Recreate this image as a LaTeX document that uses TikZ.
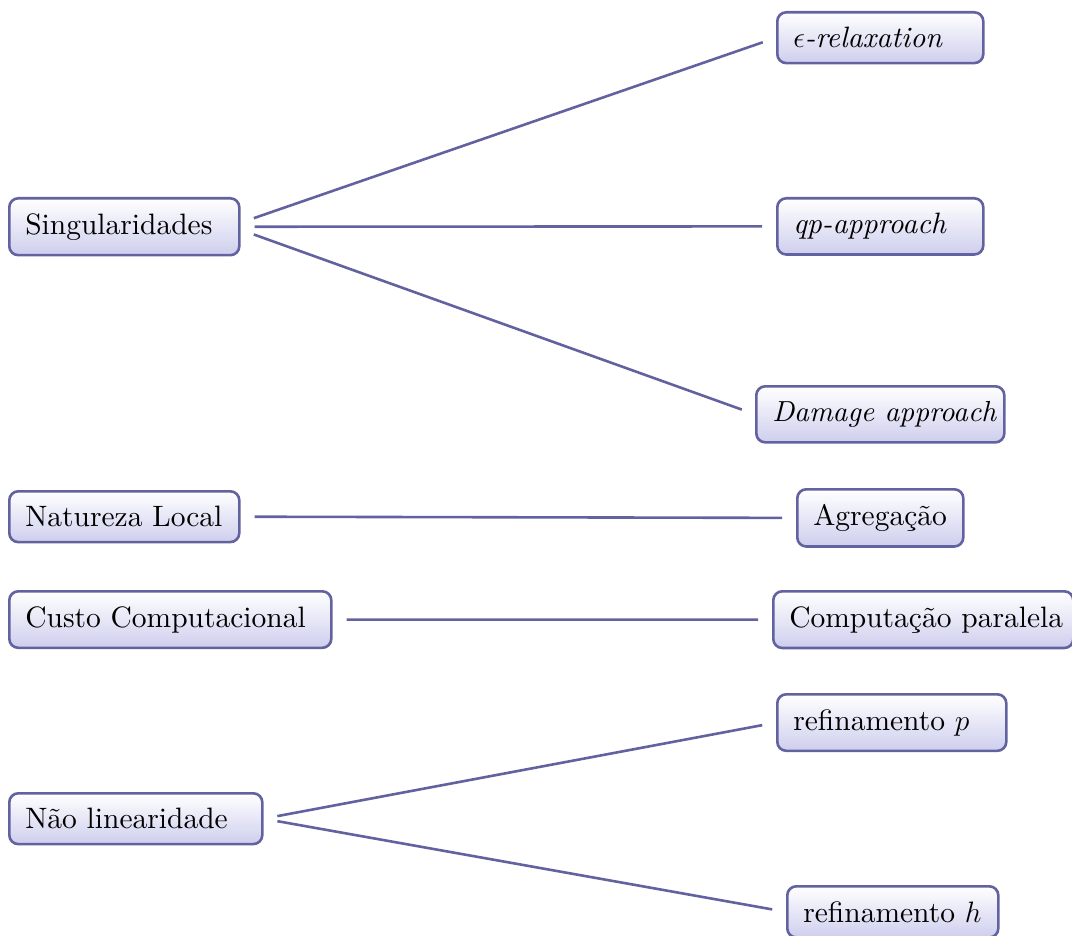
\RequirePackage{fix-cm}
\documentclass[tikz,border=0pt]{standalone}
\usepackage{fontspec}
\setmainfont{lmroman10}[Extension=.otf, UprightFont=*-regular, ItalicFont=*-italic, BoldFont=*-bold, BoldItalicFont=*-bolditalic]
\definecolor{edgecol}{RGB}{98,98,160}
\definecolor{fillbot}{RGB}{206,206,238}
\newcommand\bx[2]{\makebox[#1][l]{#2}}
\tikzset{
  item/.style={draw=edgecol, line width=2.6pt, rounded corners=9pt,
    top color=white, bottom color=fillbot, anchor=north west,
    inner xsep=16pt, inner ysep=15pt, font=\fontsize{29.5}{35}\selectfont},
  link/.style={draw=edgecol, line width=2.6pt, shorten <=14pt, shorten >=14pt}
}
\begin{document}
\begin{tikzpicture}[x=1pt,y=-1pt]
\useasboundingbox (0,0) rectangle (1072,936);
\node[item] (sing) at (8,197) {\bx{198pt}{Singularidades}};
\node[item] (eps) at (776,11) {\bx{174pt}{\textit{$\epsilon$-relaxation}}};
\node[item] (qp) at (776,197) {\bx{174pt}{\textit{qp-approach}}};
\node[item] (dam) at (755,385) {\bx{216pt}{\fontsize{29}{34}\selectfont\textit{Damage approach}}};
\node[item] (nat) at (8,490) {\bx{198pt}{Natureza Local}};
\node[item] (agr) at (796,488) {\bx{134pt}{Agregação}};
\node[item] (cus) at (8,590) {\bx{290pt}{Custo Computacional}};
\node[item] (com) at (772,590) {\bx{268pt}{Computação paralela}};
\node[item] (nao) at (8,792) {\bx{221pt}{Não linearidade}};
\node[item] (rp) at (776,693) {\bx{197pt}{refinamento $p$}};
\node[item] (rh) at (786,885) {\bx{179pt}{refinamento $h$}};
\draw[link] ([yshift=4pt]sing.east) -- (eps.west);
\draw[link] (sing.east) -- (qp.west);
\draw[link] ([yshift=-3pt]sing.east) -- (dam.west);
\draw[link] (nat.east) -- (agr.west);
\draw[link] (cus.east) -- (com.west);
\draw[link] (nao.east) -- (rp.west);
\draw[link] (nao.east) -- (rh.west);
\end{tikzpicture}
\end{document}
